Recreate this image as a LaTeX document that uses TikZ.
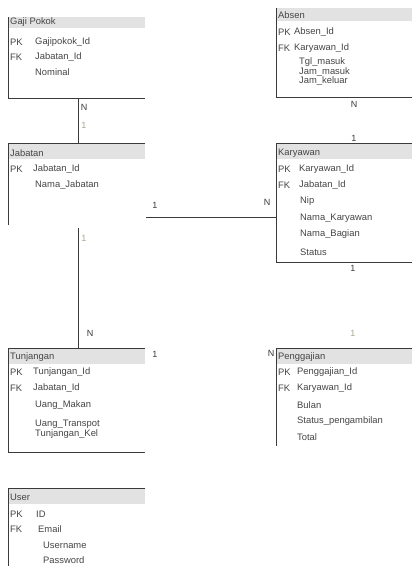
\documentclass[tikz,border=0pt]{standalone}
\usepackage{fontspec}
\setmainfont{Liberation Sans}
\definecolor{hdrgray}{HTML}{E2E2E2}
\definecolor{linegray}{HTML}{3A3A3A}
\definecolor{txtgray}{HTML}{454545}
\definecolor{faint}{HTML}{A8A890}
\tikzset{
  fld/.style={anchor=west, inner sep=0pt, font=\fontsize{9.4}{10}\selectfont, text=txtgray},
  card/.style={inner sep=0pt, font=\fontsize{9}{10}\selectfont, text=linegray},
  cardfaint/.style={card, text=faint},
  edge/.style={line width=1pt, draw=linegray},
  rel/.style={line width=1pt, draw=linegray}
}
\begin{document}
\begin{tikzpicture}[x=1pt,y=-1pt]
    \useasboundingbox[fill=white] (0,0) rectangle (412,566);

    % Gaji Pokok
    \fill[hdrgray] (8,17) rectangle (145,28);
    \draw[edge] (8,17) -- (8,98) -- (145,98);
    \node[fld] (gp) at (10,22) {Gaji Pokok};
    \node[fld] at (10,42) {PK};
    \node[fld] (gpid) at (35,42) {Gajipokok\_Id};
    \node[fld] at (10,57) {FK};
    \node[fld] at (35,57) {Jabatan\_Id};
    \node[fld] at (35,72) {Nominal};
    \coordinate (gpbot) at (78,98);

    % Absen
    \fill[hdrgray] (276,8) rectangle (412,21);
    \draw[edge] (276,8) -- (276,97) -- (412,97);
    \node[fld] (ab) at (278,15) {Absen};
    \node[fld] at (278,32) {PK};
    \node[fld] at (294,32) {Absen\_Id};
    \node[fld] at (278,48) {FK};
    \node[fld] at (294,48) {Karyawan\_Id};
    \node[fld] at (299,62) {Tgl\_masuk};
    \node[fld] at (299,72) {Jam\_masuk};
    \node[fld] at (299,81) {Jam\_keluar};

    % Jabatan
    \fill[hdrgray] (8,143) rectangle (145,159);
    \draw[edge] (145,143) -- (8,143) -- (8,225);
    \node[fld] (jb) at (10,153) {Jabatan};
    \node[fld] at (10,169) {PK};
    \node[fld] at (33,169) {Jabatan\_Id};
    \node[fld] at (35,185) {Nama\_Jabatan};
    \coordinate (jbtop) at (78,143);
    \coordinate (jbright) at (146,217);
    \coordinate (jbbot) at (78,228);

    % Karyawan
    \fill[hdrgray] (276,143) rectangle (412,159);
    \draw[edge] (412,143) -- (276,143) -- (276,262) -- (412,262);
    \node[fld] (kw) at (278,153) {Karyawan};
    \node[fld] at (278,169) {PK};
    \node[fld] at (299,169) {Karyawan\_Id};
    \node[fld] at (278,185) {FK};
    \node[fld] at (299,185) {Jabatan\_Id};
    \node[fld] at (300,201) {Nip};
    \node[fld] at (300,218) {Nama\_Karyawan};
    \node[fld] at (300,234) {Nama\_Bagian};
    \node[fld] at (300,252) {Status};
    \coordinate (kwleft) at (276,217);

    % Tunjangan
    \fill[hdrgray] (8,348) rectangle (145,364);
    \draw[edge] (145,348) -- (8,348) -- (8,452) -- (145,452);
    \node[fld] (tj) at (10,357) {Tunjangan};
    \node[fld] at (10,372) {PK};
    \node[fld] at (33,372) {Tunjangan\_Id};
    \node[fld] at (10,388) {FK};
    \node[fld] at (33,388) {Jabatan\_Id};
    \node[fld] at (35,405) {Uang\_Makan};
    \node[fld] at (35,424) {Uang\_Transpot};
    \node[fld] at (35,434) {Tunjangan\_Kel};
    \coordinate (tjtop) at (78,348);

    % Penggajian
    \fill[hdrgray] (276,348) rectangle (412,364);
    \draw[edge] (412,348) -- (276,348) -- (276,446);
    \node[fld] (pg) at (278,357) {Penggajian};
    \node[fld] at (278,372) {PK};
    \node[fld] at (297,372) {Penggajian\_Id};
    \node[fld] at (278,388) {FK};
    \node[fld] at (297,388) {Karyawan\_Id};
    \node[fld] at (297,405) {Bulan};
    \node[fld] at (297,421) {Status\_pengambilan};
    \node[fld] at (297,437) {Total};

    % User
    \fill[hdrgray] (8,488) rectangle (145,504);
    \draw[edge] (145,488) -- (8,488) -- (8,566);
    \node[fld] (us) at (10,497) {User};
    \node[fld] at (10,514) {PK};
    \node[fld] at (36,514) {ID};
    \node[fld] at (10,529) {FK};
    \node[fld] at (38,529) {Email};
    \node[fld] at (43,545) {Username};
    \node[fld] at (43,560) {Password};

    % relasi
    \draw[rel] (gpbot) -- (jbtop);
    \draw[rel] (jbright) -- (kwleft);
    \draw[rel] (jbbot) -- (tjtop);

    \node[card] (n1) at (84,107) {N};
    \node[cardfaint] (c1) at (84,125) {1};
    \node[card] (c2) at (155,205) {1};
    \node[card] (n2) at (267,202) {N};
    \node[cardfaint] (c3) at (84,238) {1};
    \node[card] (n3) at (90,333) {N};
    \node[card] (c4) at (155,354) {1};
    \node[card] (n4) at (354,104) {N};
    \node[card] (c5) at (354,138) {1};
    \node[card] (c6) at (353,268) {1};
    \node[cardfaint] (c7) at (353,333) {1};
    \node[card] (n5) at (271,353) {N};
\end{tikzpicture}
\end{document}
